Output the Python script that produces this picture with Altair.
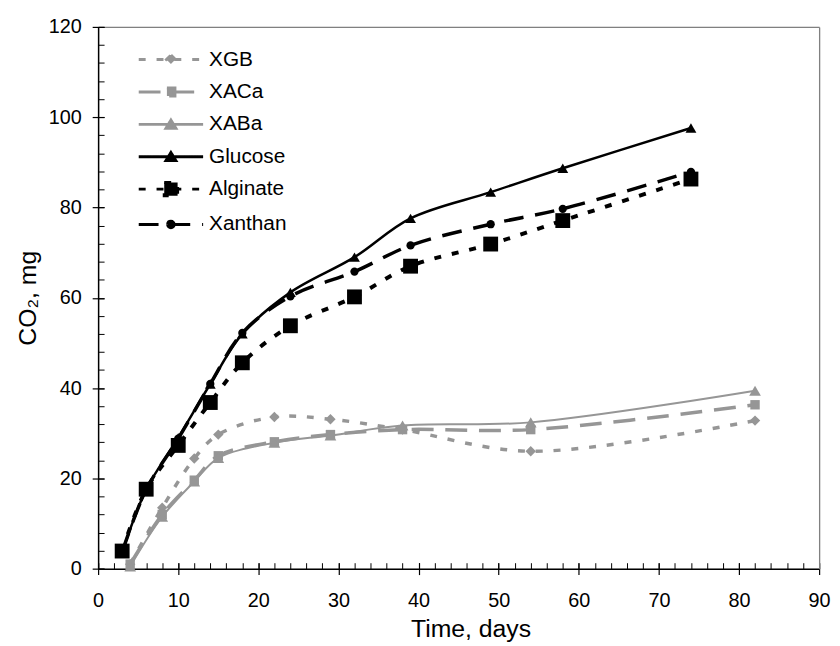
import altair as alt
import pandas as pd

# ---------------- data ----------------
series_names = ["XGB", "XACa", "XABa", "Glucose", "Alginate", "Xanthan"]

days_black = [3, 6, 10, 14, 18, 24, 32, 39, 49, 58, 74]
glucose = [3.6, 17.5, 29.0, 40.9, 52.0, 61.2, 69.0, 77.6, 83.4, 88.7, 97.6]
alginate = [3.9, 17.6, 27.3, 36.8, 45.6, 53.8, 60.2, 67.0, 71.9, 77.1, 86.3]
xanthan = [3.7, 17.5, 28.8, 40.9, 52.2, 60.3, 65.8, 71.6, 76.3, 79.7, 87.9]

days_gray = [4, 8, 12, 15, 22, 29, 38, 54, 82]
xgb = [1.0, 13.5, 24.4, 29.7, 33.6, 33.1, 30.8, 26.0, 32.8]
xaca = [1.0, 12.0, 19.6, 25.0, 28.1, 29.7, 30.8, 30.8, 36.3]
xaba = [0.5, 11.5, 19.3, 24.5, 27.9, 29.5, 31.7, 32.4, 39.4]

x_major_ticks = list(range(0, 91, 10))
x_minor_ticks = list(range(0, 91, 2))
y_major_ticks = list(range(0, 121, 20))
y_minor_ticks = list(range(0, 121, 4))

series_data = {
    "XGB": (days_gray, xgb),
    "XACa": (days_gray, xaca),
    "XABa": (days_gray, xaba),
    "Glucose": (days_black, glucose),
    "Alginate": (days_black, alginate),
    "Xanthan": (days_black, xanthan),
}

rows = []
for name in series_names:
    ts, vs = series_data[name]
    for t, v in zip(ts, vs):
        rows.append({"series": name, "t": t, "v": v})
df = pd.DataFrame(rows)

# ---------------- styles ----------------
FONT = "Liberation Sans"
GRAY = "#969696"
BLACK = "#000000"

styles = {
    "XGB": dict(color=GRAY, dash=[7, 11], width=3.5, shape="diamond", size=110),
    "XACa": dict(color=GRAY, dash=[22, 12], width=3.5, shape="square", size=90),
    "XABa": dict(color=GRAY, dash=None, width=2, shape="triangle-up", size=140),
    "Glucose": dict(color=BLACK, dash=None, width=2.5, shape="triangle-up", size=120),
    "Alginate": dict(color=BLACK, dash=[7, 11], width=4, shape="square", size=225),
    "Xanthan": dict(color=BLACK, dash=[20, 12], width=3.5, shape="circle", size=70),
}

# legend symbols: a line segment with the marker in the middle (units of r=15px)
LINE = "M-2.167,0H2.167"
legend_paths = {
    "XGB": LINE + "M0,-0.3L0.3,0L0,0.3L-0.3,0Z",
    "XACa": LINE + "M-0.27,-0.27H0.27V0.27H-0.27Z",
    "XABa": LINE + "M0,-0.28L0.33,0.26L-0.33,0.26Z",
    "Glucose": LINE + "M0,-0.28L0.33,0.26L-0.33,0.26Z",
    "Alginate": LINE + "M-0.45,-0.45H0.45V0.45H-0.45Z",
    "Xanthan": LINE + "M-0.22,0A0.22,0.22 0 1,0 0.22,0A0.22,0.22 0 1,0 -0.22,0Z",
}

x_scale = alt.Scale(domain=[0, 90], nice=False, zero=False)
y_scale = alt.Scale(domain=[0, 120], nice=False, zero=False)

# ---------------- axes ----------------
x_major = alt.Axis(values=x_major_ticks, orient="bottom", offset=-6, tickSize=12,
                   tickColor="black", tickWidth=1.2, domain=False, grid=False,
                   labelFont=FONT, labelFontSize=20, labelColor="black",
                   labelPadding=16, labelFlush=False, labelOverlap=False, format="d",
                   title="Time, days", titleFont=FONT, titleFontSize=25,
                   titleFontWeight="normal", titleColor="black", titleX=376, titleY=75,
                   titleAlign="center", titleBaseline="alphabetic")
y_major = alt.Axis(values=y_major_ticks, orient="left", offset=-6, tickSize=12,
                   tickColor="black", tickWidth=1.2, domain=False, grid=False,
                   labelFont=FONT, labelFontSize=20, labelColor="black",
                   labelPadding=11, labelFlush=False, labelOverlap=False, format="d",
                   title="CO₂, mg", titleFont=FONT, titleFontSize=25,
                   titleFontWeight="normal", titleColor="black", titleX=-77, titleY=273.5,
                   titleAngle=270, titleAlign="center", titleBaseline="middle")
x_minor = alt.Axis(values=x_minor_ticks, orient="bottom", offset=-6, tickSize=6,
                   tickColor="black", tickWidth=1, domain=False, grid=False,
                   labels=False, title=None)
y_minor = alt.Axis(values=y_minor_ticks, orient="left", offset=-6, tickSize=6,
                   tickColor="black", tickWidth=1, domain=False, grid=False,
                   labels=False, title=None)
x_dom = alt.Axis(orient="bottom", domain=True, domainColor="black", domainWidth=1.5,
                 ticks=False, labels=False, grid=False, title=None)
y_dom = alt.Axis(orient="left", domain=True, domainColor="black", domainWidth=1.5,
                 ticks=False, labels=False, grid=False, title=None)
x_frame = alt.Axis(orient="top", domain=True, domainColor="#808080", domainWidth=1.3,
                   ticks=False, labels=False, grid=False, title=None)
y_frame = alt.Axis(orient="right", domain=True, domainColor="#808080", domainWidth=1.3,
                   ticks=False, labels=False, grid=False, title=None)

axis_pairs = [(x_major, y_major), (x_minor, y_minor), (x_dom, y_dom), (x_frame, y_frame)]

layers = []
for i, name in enumerate(series_names):
    st = styles[name]
    xa, ya = axis_pairs[i] if i < len(axis_pairs) else (None, None)
    mark_kwargs = dict(interpolate="catmull-rom", color=st["color"], strokeWidth=st["width"])
    if st["dash"]:
        mark_kwargs["strokeDash"] = st["dash"]
    layers.append(
        alt.Chart(df).transform_filter(alt.datum.series == name)
        .mark_line(**mark_kwargs)
        .encode(x=alt.X("t:Q", scale=x_scale, axis=xa),
                y=alt.Y("v:Q", scale=y_scale, axis=ya))
    )

for name in series_names:
    st = styles[name]
    layers.append(
        alt.Chart(df).transform_filter(alt.datum.series == name)
        .mark_point(filled=True, shape=st["shape"], size=st["size"], color=st["color"],
                    opacity=1, strokeWidth=0)
        .encode(x=alt.X("t:Q", scale=x_scale, axis=None),
                y=alt.Y("v:Q", scale=y_scale, axis=None))
    )

leg = alt.Legend(title=None, orient="none", legendX=41, legendY=16.5, direction="vertical",
                 symbolSize=900, symbolStrokeWidth=3, symbolOffset=16, labelOffset=22,
                 labelFont=FONT, labelFontSize=21, labelColor="black", rowPadding=5.7,
                 padding=0, symbolOpacity=1, labelLimit=300)
colors = [styles[n]["color"] for n in series_names]
dashes = [styles[n]["dash"] if styles[n]["dash"] else [1, 0] for n in series_names]
paths = [legend_paths[n] for n in series_names]

legend_layer = (
    alt.Chart(df).transform_filter("datum.v < -1000")
    .mark_point(filled=True, opacity=1)
    .encode(
        x=alt.X("t:Q", scale=x_scale, axis=None),
        y=alt.Y("v:Q", scale=y_scale, axis=None),
        fill=alt.Fill("series:N", scale=alt.Scale(domain=series_names, range=colors), legend=leg),
        stroke=alt.Stroke("series:N", scale=alt.Scale(domain=series_names, range=colors), legend=leg),
        shape=alt.Shape("series:N", scale=alt.Scale(domain=series_names, range=paths), legend=leg),
        strokeDash=alt.StrokeDash("series:N", scale=alt.Scale(domain=series_names, range=dashes), legend=leg),
    )
)
layers.append(legend_layer)

chart = (
    alt.layer(*layers)
    .resolve_axis(x="independent", y="independent")
    .properties(width=728, height=547,
                autosize=alt.AutoSizeParams(type="none"),
                padding={"left": 91, "top": 16, "right": 13, "bottom": 75},
                background="white")
    .configure_view(strokeWidth=0)
    .configure(font=FONT)
)

chart.save("out.html", embed_options={"renderer": "svg", "actions": False})
